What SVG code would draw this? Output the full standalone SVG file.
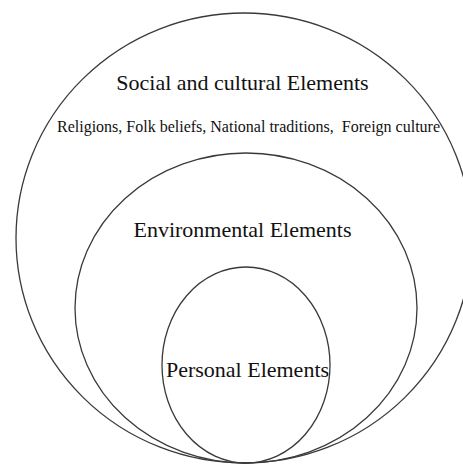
<svg xmlns="http://www.w3.org/2000/svg" width="463" height="465" viewBox="0 0 463 465">
  <style>
    .ring { fill: none; stroke: #3a3a3a; stroke-width: 1.3; }
    .label { font-family: "Liberation Serif", "Times New Roman", serif; fill: #111; text-anchor: middle; }
    .title { font-size: 22px; }
    .sub { font-size: 16px; }
  </style>
  <rect width="463" height="465" fill="#ffffff"/>
  <!-- Nested sets, all touching at the bottom -->
  <g id="social">
    <ellipse class="ring" cx="244" cy="238" rx="228" ry="225"/>
    <text class="label title" x="242.5" y="90">Social and cultural Elements</text>
    <text class="label sub" x="248.5" y="132" xml:space="preserve">Religions, Folk beliefs, National traditions,  Foreign culture</text>
  </g>
  <g id="environmental">
    <ellipse class="ring" cx="246" cy="308" rx="171" ry="155"/>
    <text class="label title" x="242.5" y="237">Environmental Elements</text>
  </g>
  <g id="personal">
    <ellipse class="ring" cx="246" cy="365" rx="84" ry="98"/>
    <text class="label title" x="247.5" y="377">Personal Elements</text>
  </g>
  <g id="connectors"></g>
</svg>
